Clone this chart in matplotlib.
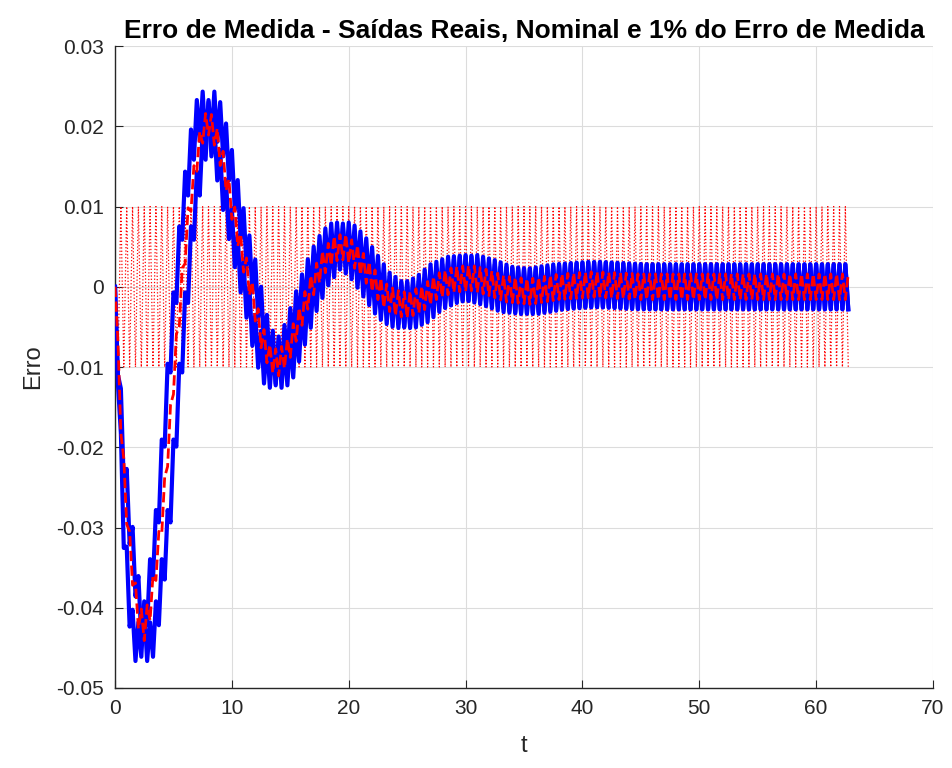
import numpy as np
import matplotlib
matplotlib.use("Agg")
import matplotlib.pyplot as plt

# Slow part of the nominal error
nom_t = [0, 0.3, 0.6, 1.1, 1.6, 2.0, 2.5, 3.0, 3.5, 4.1, 4.6, 5.1, 5.7, 6.3, 7.0,
         7.5, 8.0, 8.6, 9.3, 10.0, 10.9, 11.6, 12.5, 13.3, 14.0, 14.8, 15.8, 16.8,
         17.8, 18.8, 19.7, 20.8, 22.0, 23.0, 24.0, 25.0, 26.3, 27.5, 29.0, 30.5,
         32.0, 33.5, 35.5, 38.0, 41.0, 45.0, 62.8]
nom_y = [0, -0.010, -0.020, -0.030, -0.037, -0.041, -0.0425, -0.040, -0.035, -0.028,
         -0.019, -0.010, 0.000, 0.009, 0.016, 0.0195, 0.0205, 0.019, 0.015, 0.010,
         0.004, 0.000, -0.006, -0.009, -0.0095, -0.008, -0.004, 0.000, 0.003, 0.0048,
         0.005, 0.0035, 0.001, -0.001, -0.002, -0.0023, -0.0015, 0.000, 0.0009,
         0.0011, 0.0005, -0.0003, -0.0006, 0.000, 0.0003, 0.000, 0.000]

# real outputs: same shape, one leading and one lagging the nominal
lead_t = [0, 0.28, 0.5, 0.8, 1.2, 1.5, 2.0, 2.5, 3.0, 3.6, 4.1, 4.6, 5.2, 5.8, 6.5,
          7.0, 7.5, 8.1, 8.8, 9.5, 10.4, 11.1, 12.0, 12.8, 13.5, 14.3, 15.3, 16.3,
          17.3, 18.3, 19.2, 20.3, 21.5, 22.5, 23.5, 24.5, 25.8, 27.0, 28.5, 30.0,
          31.5, 33.0, 35.0, 37.5, 40.5, 44.5, 62.8]
lag_t = [0, 0.32, 0.7, 1.4, 2.0, 2.5, 3.0, 3.5, 4.0, 4.6, 5.1, 5.6, 6.2, 6.8, 7.5,
         8.0, 8.5, 9.1, 9.8, 10.5, 11.4, 12.1, 13.0, 13.8, 14.5, 15.3, 16.3, 17.3,
         18.3, 19.3, 20.2, 21.3, 22.5, 23.5, 24.5, 25.5, 26.8, 28.0, 29.5, 31.0,
         32.5, 34.0, 36.0, 38.5, 41.5, 45.5, 62.8]
real_gain = 1.05

ripple_period = 0.5
ripple_nom = 0.0016
ripple_real = 0.0028
noise_amp = 0.01          # 1% measurement error band
t_end = 62.8


def zigzag(center_t, center_y, amp, gain=1.0, phase=0):
    # turning points every half ripple period
    tk = np.arange(0, t_end + 1e-9, ripple_period / 2)
    base = gain * np.interp(tk, center_t, center_y)
    sign = np.where((np.arange(len(tk)) + phase) % 2 == 0, 1.0, -1.0)
    yk = base + sign * amp
    yk[0] = 0.0
    return tk, yk


plt.rcParams['font.family'] = ['Liberation Sans', 'DejaVu Sans']

fig = plt.figure(figsize=(9.53, 7.68), dpi=100)
ax = fig.add_axes([0.1207, 0.1042, 0.8583, 0.8358])

# 1% measurement error (dotted)
tn, yn = zigzag([0, t_end], [0, 0], noise_amp)
ax.plot(tn, yn, ':', color='red', linewidth=0.9, zorder=2)

# real outputs
for rt in (lead_t, lag_t):
    tr, yr = zigzag(rt, nom_y, ripple_real, gain=real_gain)
    ax.plot(tr, yr, '-', color='blue', linewidth=3, zorder=3)

# nominal output
tt, yy = zigzag(nom_t, nom_y, ripple_nom, phase=1)
ax.plot(tt, yy, '--', color='red', linewidth=2, zorder=4)

ax.set_xlim(0, 70)
ax.set_ylim(-0.05, 0.03)
ax.set_xticks(np.arange(0, 71, 10))
ax.set_yticks(np.arange(-0.05, 0.031, 0.01))
ax.set_yticklabels(['-0.05', '-0.04', '-0.03', '-0.02', '-0.01', '0', '0.01', '0.02', '0.03'])
ax.grid(True, color='#dcdcdc', linewidth=0.8)
ax.set_axisbelow(True)
for s in ['top', 'right']:
    ax.spines[s].set_visible(False)
for s in ['left', 'bottom']:
    ax.spines[s].set_color('#262626')
    ax.spines[s].set_linewidth(1.0)
ax.tick_params(direction='in', length=6, labelsize=15, colors='#262626', pad=8)

ax.set_xlabel('t', fontsize=17, color='#262626', labelpad=12)
ax.set_ylabel('Erro', fontsize=17, color='#262626', labelpad=9)
ax.set_title('Erro de Medida - Saídas Reais, Nominal e 1% do Erro de Medida',
             fontsize=19, fontweight='bold', pad=6)

fig.savefig('out.png', dpi=100)
